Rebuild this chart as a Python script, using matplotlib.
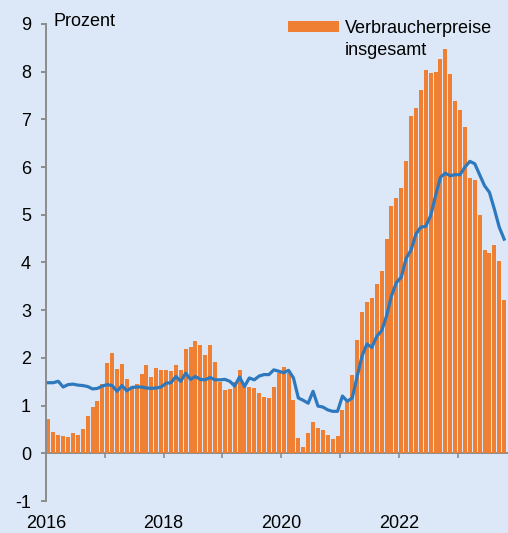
import matplotlib
matplotlib.use("Agg")
import matplotlib.pyplot as plt
import numpy as np
from matplotlib.patches import Rectangle
from matplotlib.container import BarContainer
from matplotlib.legend_handler import HandlerPatch, update_from_first_child

# monthly values, Jan 2016 .. Oct 2023
headline = [
    0.71, 0.44, 0.38, 0.36, 0.34, 0.43, 0.39, 0.51, 0.78, 0.97, 1.10, 1.45,  # 2016
    1.90, 2.10, 1.77, 1.88, 1.55, 1.40, 1.46, 1.67, 1.85, 1.60, 1.78, 1.74,  # 2017
    1.74, 1.73, 1.85, 1.75, 2.18, 2.23, 2.36, 2.28, 2.06, 2.28, 1.91, 1.49,  # 2018
    1.33, 1.34, 1.50, 1.75, 1.42, 1.38, 1.37, 1.27, 1.18, 1.16, 1.40, 1.68,  # 2019
    1.80, 1.68, 1.12, 0.33, 0.13, 0.42, 0.66, 0.54, 0.49, 0.38, 0.29, 0.36,  # 2020
    0.90, 1.08, 1.64, 2.38, 2.97, 3.18, 3.25, 3.55, 3.82, 4.50, 5.18, 5.36,  # 2021
    5.57, 6.12, 7.07, 7.24, 7.61, 8.03, 7.98, 8.00, 8.26, 8.47, 7.96, 7.39,  # 2022
    7.19, 6.84, 5.77, 5.72, 4.99, 4.27, 4.20, 4.36, 4.03, 3.21,              # 2023
]
core = [
    1.48, 1.48, 1.51, 1.39, 1.44, 1.45, 1.43, 1.42, 1.40, 1.35, 1.36, 1.41,
    1.44, 1.42, 1.30, 1.42, 1.31, 1.38, 1.39, 1.39, 1.37, 1.36, 1.37, 1.39,
    1.47, 1.48, 1.61, 1.51, 1.68, 1.55, 1.61, 1.55, 1.54, 1.59, 1.54, 1.54,
    1.55, 1.51, 1.41, 1.60, 1.40, 1.58, 1.54, 1.62, 1.65, 1.65, 1.75, 1.72,
    1.69, 1.74, 1.58, 1.16, 1.11, 1.05, 1.30, 0.99, 0.97, 0.91, 0.88, 0.88,
    1.20, 1.09, 1.16, 1.61, 2.04, 2.29, 2.22, 2.45, 2.57, 2.88, 3.30, 3.58,
    3.69, 4.09, 4.26, 4.60, 4.74, 4.76, 4.98, 5.40, 5.79, 5.87, 5.82, 5.84,
    5.84, 6.00, 6.12, 6.07, 5.84, 5.61, 5.47, 5.12, 4.74, 4.49,
]
year_labels = ["2016", "2018", "2020", "2022"]
y_ticks = [-1, 0, 1, 2, 3, 4, 5, 6, 7, 8, 9]
legend_label = "Verbraucherpreise\ninsgesamt"

bg = "#dce8f7"
orange = "#ef7f33"
blue = "#2e78bd"
grey = "#8c8c8c"

plt.rcParams["font.family"] = ["Liberation Sans", "DejaVu Sans"]
plt.rcParams["font.size"] = 13
plt.rcParams["axes.unicode_minus"] = False

fig = plt.figure(figsize=(5.08, 5.33), dpi=100, facecolor=bg)
ax = fig.add_axes([46 / 508, 1 - 501 / 533, (506.6 - 46) / 508, (501 - 24) / 533])
ax.set_facecolor(bg)

x = np.arange(len(headline)) + 0.5
bars = ax.bar(x, headline, width=0.8, color=orange, zorder=2, label=legend_label)
ax.plot(x[:len(core)], core, color=blue, lw=2.3, zorder=3, solid_joinstyle="round")

ax.set_xlim(0, len(headline))
ax.set_ylim(-1, 9)
ax.set_yticks(y_ticks)
ax.set_xticks(np.arange(0, len(headline), 12))
ax.tick_params(axis="x", labelbottom=False, direction="out", length=3.5, width=1.2, color=grey)
ax.tick_params(axis="y", direction="out", length=3.8, width=1.4, color=grey, pad=7)

for s in ["top", "right"]:
    ax.spines[s].set_visible(False)
ax.spines["left"].set_color(grey)
ax.spines["left"].set_linewidth(1.4)
ax.spines["bottom"].set_position(("data", 0))
ax.spines["bottom"].set_color(grey)
ax.spines["bottom"].set_linewidth(1.4)
ax.spines["bottom"].set_zorder(1)

# year labels at the bottom of the panel
sec = ax.secondary_xaxis("bottom")
sec.set_xticks(np.arange(0, len(headline), 24), year_labels)
sec.tick_params(length=0, pad=10)
sec.spines["bottom"].set_visible(False)

ax.text(0.017, 0.995, "Prozent", transform=ax.transAxes, ha="left", va="baseline")


def raised_patch(legend, orig_handle, xdescent, ydescent, width, height, fontsize):
    return Rectangle((-xdescent, -ydescent + 0.72 * fontsize), width, height)


leg = ax.legend(handles=[bars], loc="upper left", bbox_to_anchor=(0.525, 1.009),
                frameon=False, borderpad=0, borderaxespad=0, handlelength=2.82,
                handleheight=0.55, handletextpad=0.33,
                handler_map={BarContainer: HandlerPatch(patch_func=raised_patch,
                                                        update_func=update_from_first_child)})
for t in leg.get_texts():
    t.set_linespacing(1.37)

fig.savefig("out.png", dpi=100, facecolor=bg)
